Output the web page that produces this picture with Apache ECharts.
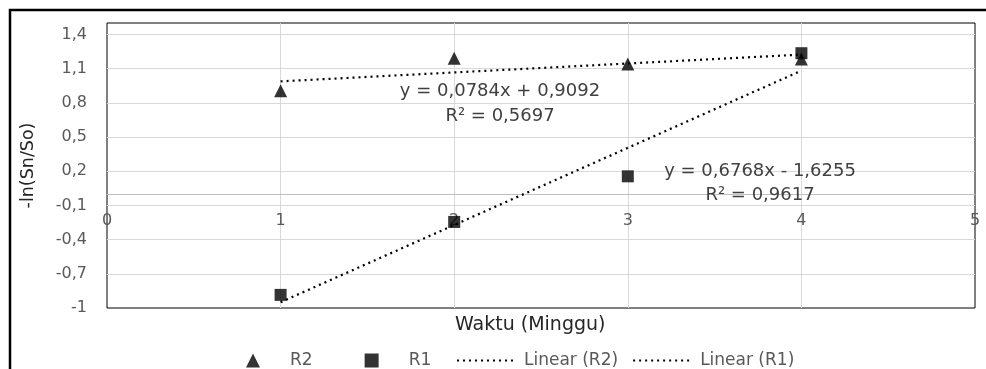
<!DOCTYPE html>
<html><head><meta charset="utf-8">
<script src="https://cdn.jsdelivr.net/npm/echarts@6/dist/echarts.min.js"></script>
<style>html,body{margin:0;padding:0;background:#fff}#c{width:986px;height:369px}</style>
</head><body><div id="c"></div>
<script>
// ---- data ----
const weeks = [1, 2, 3, 4];
const r2Values = [0.905, 1.19, 1.14, 1.185];
const r1Values = [-0.885, -0.245, 0.155, 1.235];
const trendX = [1, 4];
const linearR2 = [0.988, 1.223];
const linearR1 = [-0.949, 1.082];
const yTickLabels = [-1, -0.7, -0.4, -0.1, 0.2, 0.5, 0.8, 1.1, 1.4];
const xTickLabels = [0, 1, 2, 3, 4, 5];
const eqR2 = ['y = 0,0784x + 0,9092', 'R\u00B2 = 0,5697'];
const eqR1 = ['y = 0,6768x - 1,6255', 'R\u00B2 = 0,9617'];
const seriesNames = ['R2', 'R1', 'Linear (R2)', 'Linear (R1)'];

const FONT = 'DejaVu Sans';
const pairs = (xs, ys) => xs.map((x, i) => [x, ys[i]]);

const chart = echarts.init(document.getElementById('c'), null, {renderer: 'canvas'});
const dotted = {color: '#000', width: 2.2, type: [2, 4]};

chart.setOption({
  animation: false,
  backgroundColor: '#fff',
  title: {
    text: 'Waktu (Minggu)', left: 455, top: 316, padding: 0,
    textStyle: {fontFamily: FONT, fontSize: 19, fontWeight: 'normal', color: '#262626'}
  },
  grid: {
    left: 107, right: 11, top: 23, bottom: 61,
    show: true, borderColor: '#000', borderWidth: 1, backgroundColor: 'transparent',
    outerBoundsMode: 'none'
  },
  legend: [
    {
      data: [seriesNames[0], seriesNames[1]],
      left: 241, top: 347, itemWidth: 14, itemHeight: 14, itemGap: 52,
      formatter: '{a|{name}}',
      textStyle: {
        fontFamily: FONT, fontSize: 17, color: '#595959',
        rich: {a: {fontFamily: FONT, fontSize: 17, color: '#595959', padding: [0, 0, 0, 25]}}
      }
    },
    {
      data: [seriesNames[2], seriesNames[3]],
      left: 451, top: 347, itemWidth: 57, itemHeight: 14, itemGap: 14,
      itemStyle: {opacity: 0},
      formatter: '{a|{name}}',
      textStyle: {
        fontFamily: FONT, fontSize: 17, color: '#595959',
        rich: {a: {fontFamily: FONT, fontSize: 17, color: '#595959', padding: [0, 0, 0, 5]}}
      }
    }
  ],
  xAxis: {
    type: 'value', min: xTickLabels[0], max: xTickLabels[xTickLabels.length - 1], interval: 1,
    position: 'bottom', offset: -114,
    axisLine: {show: true, onZero: false, lineStyle: {color: '#bfbfbf', width: 1}},
    axisTick: {show: false},
    axisLabel: {
      margin: 19, fontFamily: FONT, fontSize: 16, color: '#595959',
      formatter: v => {
        const t = xTickLabels.find(k => Math.abs(k - v) < 1e-6);
        return t === undefined ? '' : String(t);
      }
    },
    splitLine: {show: true, showMinLine: false, showMaxLine: false, lineStyle: {color: '#d9d9d9', width: 1}}
  },
  yAxis: {
    type: 'value', min: -1, max: 1.5, interval: 0.3,
    name: '-ln(Sn/So)', nameLocation: 'middle', nameRotate: 90, nameGap: 70,
    nameTextStyle: {fontFamily: FONT, fontSize: 17.5, color: '#262626'},
    axisLine: {show: false},
    axisTick: {show: false},
    axisLabel: {
      margin: 20, fontFamily: FONT, fontSize: 16, color: '#595959',
      formatter: v => {
        const t = yTickLabels.find(k => Math.abs(k - v) < 1e-6);
        return t === undefined ? '' : String(t).replace('.', ',');
      }
    },
    splitLine: {show: true, showMinLine: false, showMaxLine: false, lineStyle: {color: '#d9d9d9', width: 1}}
  },
  series: [
    {
      name: seriesNames[2], type: 'line', data: pairs(trendX, linearR2),
      symbol: 'none', showSymbol: false, lineStyle: dotted, itemStyle: {color: '#000', opacity: 0}, z: 2
    },
    {
      name: seriesNames[3], type: 'line', data: pairs(trendX, linearR1),
      symbol: 'none', showSymbol: false, lineStyle: dotted, itemStyle: {color: '#000', opacity: 0}, z: 2
    },
    {
      name: seriesNames[0], type: 'scatter', data: pairs(weeks, r2Values),
      symbol: 'triangle', symbolSize: 13, itemStyle: {color: '#000'}, z: 3
    },
    {
      name: seriesNames[1], type: 'scatter', data: pairs(weeks, r1Values),
      symbol: 'rect', symbolSize: 12, itemStyle: {color: '#000'}, z: 3
    }
  ],
  graphic: [
    {type: 'rect', shape: {x: 10, y: 10, width: 1000, height: 400}, style: {fill: 'none', stroke: '#000', lineWidth: 2.5}, silent: true, z: 100},
    {type: 'text', x: 500, y: 91, style: {text: eqR2[0], align: 'center', verticalAlign: 'middle', font: '18px "DejaVu Sans"', fill: '#404040'}, z: 50},
    {type: 'text', x: 500, y: 116, style: {text: eqR2[1], align: 'center', verticalAlign: 'middle', font: '18px "DejaVu Sans"', fill: '#404040'}, z: 50},
    {type: 'text', x: 760, y: 171, style: {text: eqR1[0], align: 'center', verticalAlign: 'middle', font: '18px "DejaVu Sans"', fill: '#404040'}, z: 50},
    {type: 'text', x: 760, y: 195, style: {text: eqR1[1], align: 'center', verticalAlign: 'middle', font: '18px "DejaVu Sans"', fill: '#404040'}, z: 50}
  ]
});
</script>
</body></html>
